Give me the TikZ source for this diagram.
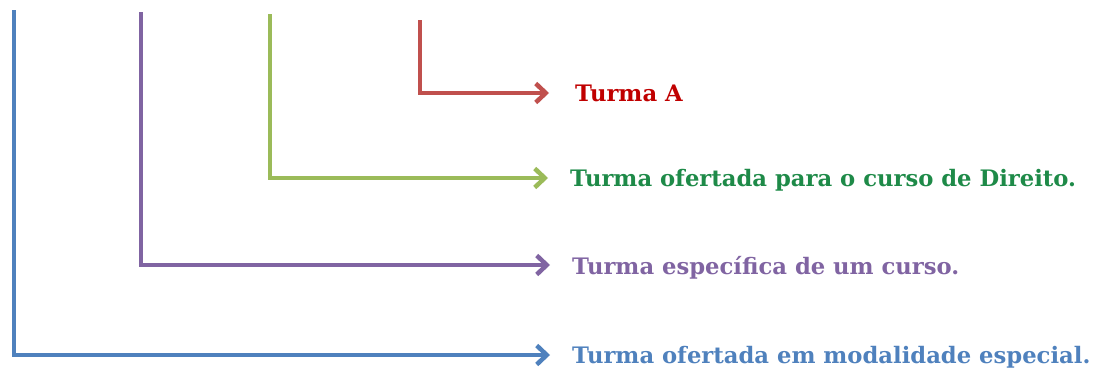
\documentclass[tikz,border=0pt]{standalone}
\usepackage{fontspec}
\setmainfont{DejaVu Serif}
\usetikzlibrary{arrows.meta}

\definecolor{lineblue}{HTML}{4F81BD}
\definecolor{linepurple}{HTML}{8064A2}
\definecolor{linegreen}{HTML}{9BBB59}
\definecolor{linered}{HTML}{C0504D}
\definecolor{txtred}{HTML}{C00000}
\definecolor{txtgreen}{HTML}{1E8A48}

\tikzset{
    bracket/.style={line width=4.5pt, line join=miter,
        -{Straight Barb[length=10pt,width=19pt,line width=4.5pt]}, shorten >=22pt},
    tag/.style={anchor=west, inner sep=0pt, text depth=0pt,
        font=\fontsize{22.7}{27}\selectfont\bfseries}
}

\begin{document}
\begin{tikzpicture}[x=1pt,y=-1pt]
    \useasboundingbox (0,0) rectangle (1097,372);

    \node[tag, text=txtred] (turmaA) at (575,93) {Turma A};
    \node[tag, text=txtgreen] (direito) at (570,178) {Turma ofertada para o curso de Direito.};
    \node[tag, text=linepurple] (curso) at (572,265) {Turma específica de um curso.};
    \node[tag, text=lineblue] (especial) at (572,355) {Turma ofertada em modalidade especial.};

    \coordinate (redtop) at (420,20);
    \coordinate (greentop) at (270,14);
    \coordinate (purpletop) at (141,12);
    \coordinate (bluetop) at (14,10);

    \draw[bracket, linered, shorten >=26pt] (redtop) |- (turmaA.west);
    \draw[bracket, linegreen] (greentop) |- (direito.west);
    \draw[bracket, linepurple] (purpletop) |- (curso.west);
    \draw[bracket, lineblue] (bluetop) |- (especial.west);
\end{tikzpicture}
\end{document}
